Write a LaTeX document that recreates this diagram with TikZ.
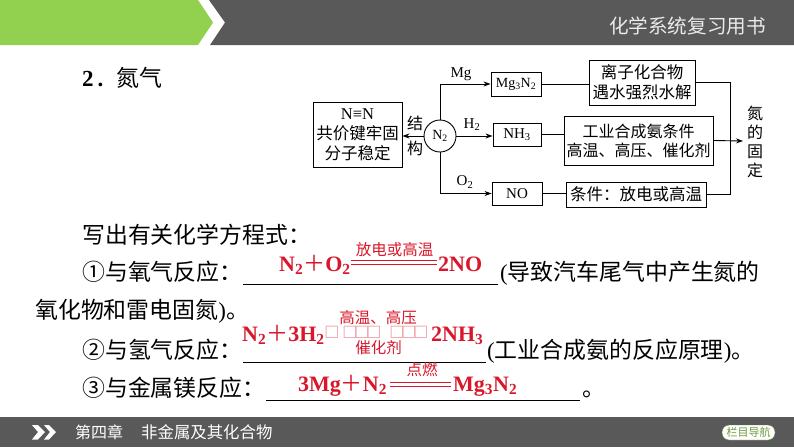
\documentclass[tikz,border=0pt]{standalone}
\usepackage{fontspec}
\setmainfont{Liberation Serif}
\newfontfamily\cjk{Noto Sans CJK SC}
\newfontfamily\djvfont{DejaVu Sans}
\usetikzlibrary{arrows.meta}
\definecolor{barg}{HTML}{92D050}
\definecolor{bard}{HTML}{595959}
\definecolor{redt}{HTML}{D8182A}
\newcommand{\fs}[1]{\fontsize{#1}{#1}\selectfont}
\newcommand{\plusg}{{\cjk\mdseries ＋}}
\tikzset{
  x=1pt,y=-1pt,
  dbox/.style={draw=black,line width=0.9pt,inner sep=0pt,align=center,font=\cjk\fontsize{16.5}{20}\selectfont},
  flowline/.style={line width=0.9pt,draw=black},
  flowarrow/.style={flowline,-{Stealth[length=7pt,width=5pt]}},
  dlabel/.style={inner sep=0pt,font=\fs{15}},
  dchar/.style={inner sep=0pt,font=\cjk\fs{16}},
  body/.style={anchor=base west,inner sep=0pt,font=\cjk\fs{22.9},text=black},
  blank/.style={line width=0.9pt,draw=black},
  chem/.style={anchor=base west,inner sep=0pt,font=\bfseries\fs{22},text=redt},
  cond/.style={inner sep=0pt,font=\cjk\fs{15.5},text=redt},
  eqline/.style={line width=1pt,draw=redt},
  tofu/.style={inner sep=0pt,font=\djvfont\fs{16},text=redt!40}
}
\begin{document}
\begin{tikzpicture}
\useasboundingbox (0,0) rectangle (794,447);
\fill[white] (0,0) rectangle (794,447);
% top bar
\fill[barg] (0,0) -- (198,0) -- (213,22.5) -- (198,45) -- (0,45) -- cycle;
\fill[bard] (209,0) -- (794,0) -- (794,45) -- (210,45) -- (225,22.5) -- cycle;
\node[anchor=base east,inner sep=0pt,font=\cjk\fs{19.6},text=white!92!black] (title) at (766,33) {化学系统复习用书};
% bottom bar
\fill[bard] (0,417) rectangle (794,447);
\fill[white] (32,425) -- (38,425) -- (45,432) -- (38,439.5) -- (32,439.5) -- (38,432) -- cycle;
\fill[white] (44,425) -- (49,425) -- (56,432) -- (49,439.5) -- (44,439.5) -- (50,432) -- cycle;
\node[anchor=base west,inner sep=0pt,font=\cjk\fs{16},text=white] (chap) at (75,438) {第四章};
\node[anchor=base west,inner sep=0pt,font=\cjk\fs{16.4},text=white] (chapn) at (141,438) {非金属及其化合物};
\node[draw=barg!60!black,fill=white,rounded corners=7pt,minimum width=53pt,minimum height=15pt,inner sep=0pt,font=\cjk\fs{11},text=barg!75!black] (nav) at (748.5,432.5) {栏目导航};
% main text
\node[body] (t2) at (82,86) {{\bfseries\fs{23}\rmfamily 2\,.}};
\node[body] (t2b) at (116,86) {氮气};
\node[body] (t3) at (82,243.5) {写出有关化学方程式：};
\node[body] (t4) at (82,280.5) {①与氧气反应：};
\node[body] (t5) at (500,280.5) {{\rmfamily(}导致汽车尾气中产生氮的};
\node[body] (t6) at (35,318.5) {氧化物和雷电固氮{\rmfamily)}。};
\node[body] (t7) at (82,358.5) {②与氢气反应：};
\node[body] (t8) at (487,358.5) {{\rmfamily(}工业合成氨的反应原理{\rmfamily)}。};
\node[body] (t9) at (82,396.5) {③与金属镁反应：};
\node[body] (t10) at (582,396) {。};
% blanks
\coordinate (b1a) at (243,284); \coordinate (b1b) at (498,284);
\coordinate (b2a) at (243,362); \coordinate (b2b) at (486,362);
\coordinate (b3a) at (266,400); \coordinate (b3b) at (580,400);
\draw[blank] (b1a) -- (b1b);
\draw[blank] (b2a) -- (b2b);
\draw[blank] (b3a) -- (b3b);
% equation 1
\node[chem] (e1l) at (279,271) {N\textsubscript{2}\plusg O\textsubscript{2}};
\node[chem] (e1r) at (438,271) {2NO};
\draw[eqline] (351,260.5) -- (437,260.5);
\draw[eqline] (351,264.5) -- (437,264.5);
\node[cond] (e1c) at (394.5,250) {放电或高温};
% equation 2
\node[chem] (e2l) at (242,341) {N\textsubscript{2}\plusg 3H\textsubscript{2}};
\node[chem] (e2r) at (431,341) {2NH\textsubscript{3}};
\foreach \px in {332,350,362,374,397,409,421}{
  \node[tofu] at (\px,332.5) {□};
}
\node[cond] (e2c) at (378,318) {高温、高压};
\node[cond] (e2d) at (378.5,348) {催化剂};
% equation 3
\node[chem] (e3l) at (298,391) {3Mg\plusg N\textsubscript{2}};
\node[chem] (e3r) at (453,391) {Mg\textsubscript{3}N\textsubscript{2}};
\draw[eqline] (390,382) -- (451,382);
\draw[eqline] (390,386) -- (451,386);
\node[cond] (e3c) at (422,370) {点燃};
% diagram
\node[dbox,minimum width=89pt,minimum height=65pt] (bond) at (357.5,134.5) {{\rmfamily N≡N}\\共价键牢固\\分子稳定};
\node[draw=black,line width=0.9pt,circle,minimum size=32pt,inner sep=0pt,font=\fs{14}] (n2) at (440,136) {N\textsubscript{2}};
\node[dbox,font=\fs{14},minimum width=50pt,minimum height=24pt] (mgn) at (516,84) {Mg\textsubscript{3}N\textsubscript{2}};
\node[dbox,minimum width=106pt,minimum height=45pt] (ionic) at (642,82.5) {离子化合物\\遇水强烈水解};
\node[dbox,font=\fs{15},minimum width=48pt,minimum height=23pt] (nh3) at (517,134.5) {NH\textsubscript{3}};
\node[dbox,font=\cjk\fontsize{16}{19}\selectfont,minimum width=149pt,minimum height=49pt] (ind) at (638.5,140.5) {工业合成氨条件\\高温、高压、催化剂};
\node[dbox,font=\fs{15},minimum width=50pt,minimum height=23pt] (no) at (517,193.5) {NO};
\node[dbox,minimum width=140pt,minimum height=25pt] (cnd) at (636,194.5) {条件：放电或高温};
\coordinate (join) at (730,141);
\coordinate (fix) at (743,141);
\draw[flowarrow] (n2.west) -- (n2.west -| bond.east);
\draw[flowarrow] (n2.north) |- (mgn.west);
\draw[flowarrow] (n2.east) -- (n2.east -| nh3.west);
\draw[flowarrow] (n2.south) |- (no.west);
\draw[flowline] (mgn.east) -- (mgn.east -| ionic.west);
\draw[flowline] (nh3.east) -- (nh3.east -| ind.west);
\draw[flowline] (no.east) -- (no.east -| cnd.west);
\draw[flowline] (ionic.east) -| (join);
\draw[flowline] (cnd.east) -| (join);
\draw[flowarrow] (ind.east) -- (fix);
\node[dlabel] (lmg) at (461,74) {Mg};
\node[dlabel] (lh2) at (472,125) {H\textsubscript{2}};
\node[dlabel] (lo2) at (465,182) {O\textsubscript{2}};
\node[dchar] (c1) at (415,123) {结};
\node[dchar] (c2) at (415,148) {构};
\node[dchar] (d1) at (755,113) {氮};
\node[dchar] (d2) at (755,132) {的};
\node[dchar] (d3) at (755,152) {固};
\node[dchar] (d4) at (755,170) {定};
\end{tikzpicture}
\end{document}
